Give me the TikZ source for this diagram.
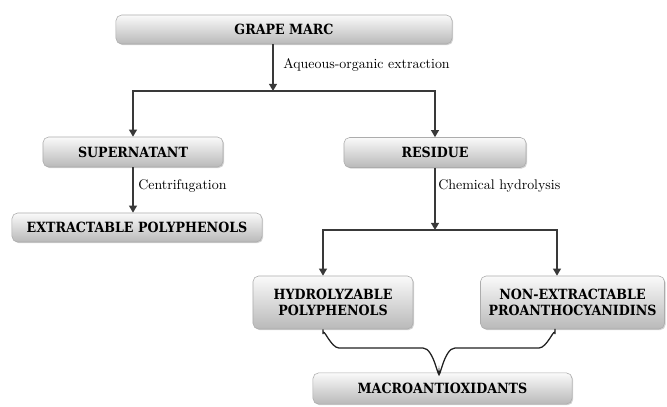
\documentclass[tikz,border=0pt]{standalone}
\usepackage{fontspec}
\newfontfamily\boxfont{DejaVu Serif Condensed}
\usetikzlibrary{arrows.meta}
\usetikzlibrary{shadows}

\begin{document}
\begin{tikzpicture}[x=0.025cm, y=-0.025cm,
    stagebox/.style={draw=gray!65, rounded corners=4pt, top color=gray!4, bottom color=gray!55,
                     drop shadow={shadow xshift=0.8pt, shadow yshift=-0.8pt, opacity=0.35},
                     font=\boxfont\fontsize{10}{11.5}\selectfont\bfseries, align=center, inner sep=0pt},
    flow/.style={draw=gray!45!black, line width=1.1pt, -{Triangle[length=5pt,width=5.5pt]}},
    steplabel/.style={font=\fontsize{9.9}{12}\selectfont, anchor=west, inner sep=0pt}]

          \useasboundingbox (0,0) rectangle (667,407);

          \node[stagebox, minimum width=8.4cm,  minimum height=0.725cm] (grape)   at (284, 29.5) {GRAPE MARC};
          \node[stagebox, minimum width=4.5cm,  minimum height=0.75cm]  (super)   at (133, 152)  {SUPERNATANT};
          \node[stagebox, minimum width=4.55cm, minimum height=0.75cm]  (residue) at (435, 152.5) {RESIDUE};
          \node[stagebox, minimum width=6.25cm, minimum height=0.725cm] (extract) at (137, 227.5) {EXTRACTABLE POLYPHENOLS};
          \node[stagebox, minimum width=4cm,    minimum height=1.325cm] (hydro)   at (333, 302.5) {HYDROLYZABLE\\POLYPHENOLS};
          \node[stagebox, minimum width=4.6cm,  minimum height=1.325cm] (nonext)  at (572.5, 302.5) {NON-EXTRACTABLE\\PROANTHOCYANIDINS};
          \node[stagebox, minimum width=6.475cm,minimum height=0.78cm]  (macro)   at (442.5, 388.5) {MACROANTIOXIDANTS};

          % first split
          \coordinate (split1) at (273, 91);
          \draw[flow] (grape.south -| split1) -- (split1);
          \draw[flow] (split1) -| (super.north);
          \draw[flow] (split1) -| (residue.north);
          \node[steplabel] (lblextr) at (283, 65) {Aqueous-organic extraction};

          % supernatant branch
          \draw[flow] (super.south) -- (super.south |- extract.north);
          \node[steplabel] (lblcent) at (138, 186) {Centrifugation};

          % residue branch
          \coordinate (split2) at (435, 230);
          \coordinate (dropl) at (323, 230);
          \coordinate (dropr) at (557, 230);
          \draw[flow] (residue.south) -- (split2);
          \draw[flow] (split2) -- (dropl) -- (dropl |- hydro.north);
          \draw[flow] (split2) -- (dropr) -- (dropr |- nonext.north);
          \node[steplabel] (lblhydr) at (438, 186) {Chemical hydrolysis};

          % brace into macroantioxidants
          \draw[gray!25!black, line width=0.9pt]
            (hydro.south -| dropl) -- (323, 334) to[out=90, in=180] (339, 348) -- (423, 348)
            to[out=0, in=-90] (439, 372) to[out=-90, in=180] (455, 348) -- (539, 348)
            to[out=0, in=90] (555, 334) -- (555, 329);

        \end{tikzpicture}
\end{document}
